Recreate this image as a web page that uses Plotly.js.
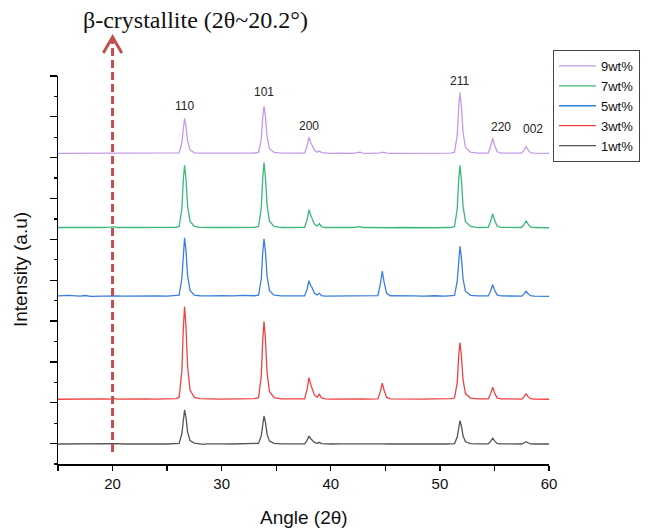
<!DOCTYPE html>
<html>
<head>
<meta charset="utf-8">
<script src="https://cdn.plot.ly/plotly-3.0.1.min.js"></script>
<style>html,body{margin:0;padding:0;background:#fff;}#chart{width:649px;height:531px;}</style>
</head>
<body>
<div id="chart"></div>
<script>
// Shared 2θ grid (degrees)
const angle = [
  15, 16, 17, 17.5, 18, 19, 19.8, 20.1, 20.4, 21, 22, 23, 24, 25, 25.8,
  26.1, 26.35, 26.48, 26.6, 26.73, 26.88, 27.1, 27.5,
  28.0, 28.3, 28.6, 29, 30, 31, 32, 33,
  33.38, 33.63, 33.76, 33.88, 34.01, 34.16, 34.38, 34.8,
  35.5, 36.5, 37.3,
  37.6, 37.83, 38.0, 38.15, 38.3, 38.5, 38.75, 38.95, 39.15, 39.5,
  40, 41, 42, 42.7, 42.9, 43.5,
  44.32, 44.55, 44.72, 44.89, 45.12, 45.47,
  46.5, 47.5, 48.5, 49.5, 50.5, 51.0,
  51.34, 51.59, 51.72, 51.84, 51.97, 52.12, 52.34, 52.8,
  53.5, 54.2,
  54.44, 54.67, 54.84, 55.01, 55.24, 55.59,
  56.2, 57.2,
  57.5, 57.73, 57.9, 58.07, 58.3, 58.65,
  59.2, 60
];

// Intensities (a.u.), per sample
const i1wt = [
  0, 0.01, 0, 0.02, 0, 0.01, 0.02, 0.05, 0.02, 0, 0.01, 0, 0.01, 0, 0.02,
  0.03, 0.5, 1.25, 1.67, 1.3, 0.58, 0.17, 0.04,
  0.01, -0.02, 0.01, 0, 0.01, 0, 0.01, 0.02,
  0.03, 0.41, 1.03, 1.37, 1.07, 0.48, 0.14, 0.03,
  0.01, 0, 0.01,
  0.01, 0.18, 0.39, 0.27, 0.2, 0.08, 0.03, 0.08, 0.02, 0,
  0, 0.01, 0, 0.01, 0, 0.01,
  0, 0.01, 0.01, 0, 0, 0,
  0.01, 0, 0, 0.01, 0, 0.01,
  0.02, 0.34, 0.86, 1.14, 0.89, 0.4, 0.11, 0.02,
  0.01, 0,
  0.01, 0.14, 0.28, 0.15, 0.03, 0.01,
  0, 0.01,
  0, 0.06, 0.11, 0.06, 0.01, 0,
  0, 0
];
const i3wt = [
  0, 0.01, 0.02, 0, 0.01, 0.02, 0.01, 0.04, 0.01, 0.02, 0, 0.02, 0.01, 0.02, 0.03,
  0.09, 1.36, 3.4, 4.54, 3.54, 1.59, 0.45, 0.09,
  0.03, 0.02, 0.01, 0.02, 0.01, 0.02, 0.01, 0.03,
  0.08, 1.14, 2.86, 3.81, 2.97, 1.33, 0.38, 0.08,
  0.02, 0.01, 0.02,
  0.02, 0.48, 1.06, 0.74, 0.53, 0.21, 0.1, 0.25, 0.07, 0.02,
  0.01, 0.02, 0.01, 0.04, 0.02, 0.01,
  0.02, 0.4, 0.79, 0.43, 0.09, 0.02,
  0.01, 0.03, 0.01, 0.02, 0.01, 0.03,
  0.06, 0.83, 2.09, 2.78, 2.17, 0.97, 0.28, 0.06,
  0.02, 0.03,
  0.02, 0.3, 0.59, 0.32, 0.07, 0.02,
  0.01, 0.02,
  0.01, 0.13, 0.26, 0.14, 0.03, 0.01,
  0.01, 0
];
const i5wt = [
  0.02, 0.05, 0.01, 0.04, 0, 0.02, 0.01, 0.05, 0.02, 0.01, 0.02, 0.01, 0.02, 0.01, 0.03,
  0.06, 0.86, 2.15, 2.87, 2.24, 1.0, 0.29, 0.06,
  0.03, 0.02, 0.01, 0.02, 0.04, 0.02, 0.05, 0.03,
  0.06, 0.85, 2.12, 2.82, 2.2, 0.99, 0.28, 0.06,
  0.02, 0.01, 0.02,
  0.02, 0.35, 0.77, 0.54, 0.41, 0.15, 0.07, 0.15, 0.04, 0.01,
  0.01, 0.02, 0.01, 0.03, 0.01, 0.02,
  0.04, 0.62, 1.23, 0.68, 0.15, 0.03,
  0.01, 0.02, 0.01, 0.03, 0.01, 0.03,
  0.05, 0.74, 1.84, 2.45, 1.91, 0.86, 0.25, 0.05,
  0.02, 0.03,
  0.02, 0.29, 0.57, 0.31, 0.07, 0.02,
  0.01, 0.02,
  0.01, 0.13, 0.25, 0.14, 0.03, 0.01,
  0.01, 0
];
const i7wt = [
  0.01, 0.01, 0, -0.02, 0.01, 0.01, 0.03, 0.05, 0.01, 0.01, 0.01, 0, 0.01, 0, 0.02,
  0.06, 0.92, 2.3, 3.06, 2.39, 1.07, 0.31, 0.06,
  0.02, 0.01, 0.01, 0.01, 0.01, 0.01, 0.01, 0.02,
  0.06, 0.96, 2.39, 3.19, 2.49, 1.12, 0.32, 0.06,
  0.01, 0.01, 0.01,
  0.02, 0.4, 0.88, 0.62, 0.44, 0.18, 0.08, 0.2, 0.05, 0.01,
  0.01, 0.01, 0.01, 0.05, 0.01, 0.01,
  0, 0.01, 0.02, 0.01, 0, 0,
  0.01, 0, 0.01, 0, 0.01, 0.01,
  0.06, 0.92, 2.3, 3.06, 2.39, 1.07, 0.31, 0.06,
  0.01, 0.02,
  0.02, 0.35, 0.69, 0.38, 0.08, 0.02,
  0.01, 0.01,
  0.01, 0.17, 0.34, 0.19, 0.04, 0.01,
  0.01, 0
];
const i9wt = [
  0, 0, 0.01, 0, 0.01, 0, 0.01, 0.01, 0, 0.01, 0, 0.01, 0.03, 0.01, 0.02,
  0.03, 0.52, 1.29, 1.72, 1.34, 0.6, 0.17, 0.03,
  0.01, 0.01, 0, 0.01, 0, 0.01, 0, 0.02,
  0.05, 0.69, 1.73, 2.31, 1.8, 0.81, 0.23, 0.05,
  0.01, 0, 0.01,
  0.02, 0.36, 0.79, 0.55, 0.4, 0.16, 0.06, 0.12, 0.04, 0.01,
  0, 0.01, 0, 0.06, 0.01, 0,
  0.01, 0.03, 0.06, 0.03, 0.01, 0,
  0, 0.01, 0, 0.01, 0, 0.01,
  0.06, 0.89, 2.24, 2.98, 2.32, 1.04, 0.3, 0.06,
  0.01, 0.01,
  0.02, 0.37, 0.74, 0.41, 0.09, 0.01,
  0, 0.01,
  0.01, 0.17, 0.33, 0.18, 0.04, 0.01,
  0, 0
];

const seriesNames = ['9wt%', '7wt%', '5wt%', '3wt%', '1wt%'];
const seriesData = [i9wt, i7wt, i5wt, i3wt, i1wt];
const stackOffsets = [15.21, 11.57, 8.21, 3.17, 0.98];   // vertical stacking of patterns
const colors = ['#c49bea', '#3db87a', '#3b7de0', '#ee4343', '#555555'];

// Peak (hkl) labels
const peakLabels = ['110', '101', '200', '211', '220', '002'];
const peakLabelX = [26.6, 33.9, 38.0, 51.83, 55.6, 58.53];
const peakLabelY = [17.52, 18.2, 16.54, 18.74, 16.49, 16.39];

const xTicks = [20, 30, 40, 50, 60];
const betaAngle = 20;

const traces = seriesNames.map((name, k) => ({
  type: 'scatter',
  mode: 'lines',
  name: name,
  x: angle,
  y: seriesData[k].map(v => v + stackOffsets[k]),
  line: { color: colors[k], width: 1.3 },
  hoverinfo: 'skip'
}));

const annotations = peakLabels.map((t, k) => ({
  text: t, x: peakLabelX[k], y: peakLabelY[k], xref: 'x', yref: 'y',
  showarrow: false, font: { family: 'Arial, Liberation Sans, sans-serif', size: 12, color: '#222' }
}));
annotations.push({
  text: 'β-crystallite (2θ~20.2°)', xref: 'paper', yref: 'paper',
  x: (195 - 58) / 491, y: (464 - 20) / 388, xanchor: 'center', yanchor: 'middle',
  showarrow: false, font: { family: 'Liberation Serif, Times New Roman, serif', size: 24, color: '#111' }
});
annotations.push({
  text: 'Angle (2θ)', xref: 'paper', yref: 'paper', x: 0.5, y: (464 - 517) / 388,
  xanchor: 'center', yanchor: 'middle', showarrow: false,
  font: { family: 'Arial, Liberation Sans, sans-serif', size: 19, color: '#111' }
});
annotations.push({
  text: 'Intensity (a.u)', xref: 'paper', yref: 'paper', x: (20 - 58) / 491, y: 0.5,
  xanchor: 'center', yanchor: 'middle', textangle: -90, showarrow: false,
  font: { family: 'Arial, Liberation Sans, sans-serif', size: 19, color: '#111' }
});

const arrowColor = '#c0504d';
const shapes = [
  { type: 'line', xref: 'x', yref: 'paper', x0: betaAngle, x1: betaAngle,
    y0: (464 - 452) / 388, y1: (464 - 39) / 388,
    line: { color: arrowColor, width: 3, dash: '8px,4px' } },
  { type: 'path', xref: 'x', yref: 'paper',
    path: `M ${betaAngle - 0.85} ${(464 - 53) / 388} L ${betaAngle} ${(464 - 37) / 388} L ${betaAngle + 0.85} ${(464 - 53) / 388}`,
    line: { color: arrowColor, width: 3 } }
];

const layout = {
  width: 649, height: 531,
  margin: { l: 58, r: 100, t: 76, b: 67, autoexpand: false },
  paper_bgcolor: '#fff', plot_bgcolor: '#fff',
  showlegend: true,
  legend: {
    x: (553 - 58) / 491, y: (464 - 50) / 388, xanchor: 'left', yanchor: 'top',
    bordercolor: '#444', borderwidth: 1, bgcolor: '#fff',
    font: { family: 'Arial, Liberation Sans, sans-serif', size: 13, color: '#111' },
    itemwidth: 37, tracegroupgap: 0
  },
  xaxis: {
    range: [15, 60], tickvals: xTicks, ticktext: xTicks.map(String),
    ticks: 'outside', ticklen: 5, tickwidth: 1.3, tickcolor: '#000',
    minor: { dtick: 5, tick0: 15, ticks: 'outside', ticklen: 5, tickwidth: 1.3, tickcolor: '#000' },
    showline: true, linecolor: '#000', linewidth: 1.5, mirror: false,
    showgrid: false, zeroline: false, automargin: false,
    tickfont: { family: 'Arial, Liberation Sans, sans-serif', size: 15, color: '#111' }
  },
  yaxis: {
    range: [0, 19], tick0: 1, dtick: 2, showticklabels: false,
    ticks: 'outside', ticklen: 7, tickwidth: 1.3, tickcolor: '#000',
    minor: { dtick: 1, tick0: 0, ticks: 'outside', ticklen: 3, tickwidth: 1.3, tickcolor: '#000' },
    showline: true, linecolor: '#000', linewidth: 1.5, mirror: false,
    showgrid: false, zeroline: false, automargin: false
  },
  annotations: annotations,
  shapes: shapes
};

Plotly.newPlot('chart', traces, layout, { displayModeBar: false, staticPlot: true });
</script>
</body>
</html>
